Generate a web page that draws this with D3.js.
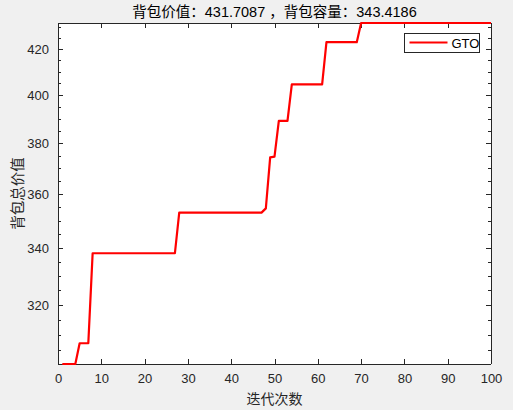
<!DOCTYPE html>
<html>
<head>
<meta charset="utf-8">
<script src="https://cdn.jsdelivr.net/npm/d3@7"></script>
<style>
  body { margin: 0; background: #f0f0f0; }
  .axis text { font-family: "Liberation Sans", Arial, sans-serif; font-size: 13px; fill: #262626; }
  .axis path, .axis line { stroke: #262626; }
</style>
</head>
<body>
<svg id="gto-chart"></svg>
<script>
// iterations 1..100
const iterations = d3.range(1, 101);
// best knapsack value per iteration
const bestValues = [
  300.6, 300.6, 300.6, 300.6, 307.3, 307.3, 307.3, 338.1, 338.1, 338.1,
  338.1, 338.1, 338.1, 338.1, 338.1, 338.1, 338.1, 338.1, 338.1, 338.1,
  338.1, 338.1, 338.1, 338.1, 338.1, 338.1, 338.1, 353.0, 353.0, 353.0,
  353.0, 353.0, 353.0, 353.0, 353.0, 353.0, 353.0, 353.0, 353.0, 353.0,
  353.0, 353.0, 353.0, 353.0, 353.0, 353.0, 353.0, 354.6, 374.3, 374.6,
  389.1, 389.1, 389.1, 404.5, 404.5, 404.5, 404.5, 404.5, 404.5, 404.5,
  404.5, 423.0, 423.0, 423.0, 423.0, 423.0, 423.0, 423.0, 423.0, 431.7087,
  431.7087, 431.7087, 431.7087, 431.7087, 431.7087, 431.7087, 431.7087, 431.7087, 431.7087, 431.7087,
  431.7087, 431.7087, 431.7087, 431.7087, 431.7087, 431.7087, 431.7087, 431.7087, 431.7087, 431.7087,
  431.7087, 431.7087, 431.7087, 431.7087, 431.7087, 431.7087, 431.7087, 431.7087, 431.7087, 431.7087
];
const xTicks = [0, 10, 20, 30, 40, 50, 60, 70, 80, 90, 100];
const yTicks = [320, 340, 360, 380, 400, 420];
const yMinorTicks = d3.range(305, 431, 5);
const seriesName = "GTO";
const titleText = "背包价值：431.7087 ，背包容量：343.4186";
const xLabelText = "迭代次数";
const yLabelText = "背包总价值";

// Graph Dimensions
const totalWidth = 513;
const totalHeight = 410;
const margin = { top: 23, right: 22, bottom: 46, left: 58 };
const graphWidth = totalWidth - margin.left - margin.right;
const graphHeight = totalHeight - margin.top - margin.bottom;
const tickLen = 5;

const data = iterations.map((it, i) => ({ it, value: bestValues[i] }));

///////////////////////////////////////////////////
//////////////// Set the Scales ///////////////////
///////////////////////////////////////////////////

const xScale = d3.scaleLinear().domain([0, 100]).range([0, graphWidth]);

// semilogy, tight limits
const yScale = d3
  .scaleLog()
  .domain([d3.min(bestValues), d3.max(bestValues)])
  .range([graphHeight, 0]);

const lineFunction = d3
  .line()
  .x((d) => xScale(d.it))
  .y((d) => yScale(d.value));

///////////////////////////////////////////////////
////////////// Initialize the SVG /////////////////
///////////////////////////////////////////////////

const root = d3
  .select("#gto-chart")
  .attr("width", totalWidth)
  .attr("height", totalHeight);

root
  .append("rect")
  .attr("width", totalWidth)
  .attr("height", totalHeight)
  .attr("fill", "#f0f0f0");

const svg = root
  .append("g")
  .attr("transform", "translate(" + margin.left + "," + margin.top + ")");

// chart background
svg
  .append("rect")
  .attr("width", graphWidth)
  .attr("height", graphHeight)
  .attr("fill", "#fff");

///////////////////////////////////////////////////
/////////////// Create the axes ///////////////////
///////////////////////////////////////////////////

// bottom axis (ticks inward)
svg
  .append("g")
  .attr("class", "axis")
  .attr("transform", "translate(0," + graphHeight + ")")
  .call(d3.axisBottom(xScale).tickValues(xTicks).tickSize(-tickLen).tickPadding(10).tickFormat(d3.format("d")))
  .call((g) => g.select(".domain").attr("d", "M0,0H" + graphWidth));

// top axis, ticks only
svg
  .append("g")
  .attr("class", "axis")
  .call(d3.axisTop(xScale).tickValues(xTicks).tickSize(-tickLen).tickFormat(""))
  .call((g) => g.select(".domain").attr("d", "M0,0H" + graphWidth));

// left axis
svg
  .append("g")
  .attr("class", "axis")
  .call(d3.axisLeft(yScale).tickValues(yTicks).tickSize(-tickLen).tickPadding(9).tickFormat(d3.format("d")))
  .call((g) => g.select(".domain").attr("d", "M0,0V" + graphHeight));

svg
  .append("g")
  .attr("class", "axis")
  .call(d3.axisLeft(yScale).tickValues(yMinorTicks).tickSize(-3).tickFormat(""))
  .call((g) => g.select(".domain").remove());

// right axis, ticks only
svg
  .append("g")
  .attr("class", "axis")
  .attr("transform", "translate(" + graphWidth + ",0)")
  .call(d3.axisRight(yScale).tickValues(yTicks).tickSize(-tickLen).tickFormat(""))
  .call((g) => g.select(".domain").attr("d", "M0,0V" + graphHeight));

svg
  .append("g")
  .attr("class", "axis")
  .attr("transform", "translate(" + graphWidth + ",0)")
  .call(d3.axisRight(yScale).tickValues(yMinorTicks).tickSize(-3).tickFormat(""))
  .call((g) => g.select(".domain").remove());

svg.selectAll(".axis path, .axis line").attr("shape-rendering", "crispEdges");

///////////////////////////////////////////////////
/////////////// Render the line ///////////////////
///////////////////////////////////////////////////

svg
  .append("path")
  .attr("d", lineFunction(data))
  .attr("fill", "none")
  .attr("stroke", "#ff0000")
  .attr("stroke-width", 2.2)
  .attr("stroke-linejoin", "round");

///////////////////////////////////////////////////
////////////// Title, labels, legend //////////////
///////////////////////////////////////////////////

root
  .append("text")
  .attr("x", margin.left + graphWidth / 2)
  .attr("y", 17)
  .attr("text-anchor", "middle")
  .style("font-family", "'Liberation Sans', 'Noto Sans CJK SC', sans-serif")
  .style("font-size", "14.5px")
  .style("fill", "#000")
  .text(titleText);

root
  .append("text")
  .attr("x", margin.left + graphWidth / 2)
  .attr("y", 404)
  .attr("text-anchor", "middle")
  .style("font-family", "'Noto Sans CJK SC', sans-serif")
  .style("font-size", "14px")
  .style("fill", "#262626")
  .text(xLabelText);

root
  .append("text")
  .attr("transform", "translate(23," + (margin.top + graphHeight / 2) + ") rotate(-90)")
  .attr("text-anchor", "middle")
  .style("font-family", "'Noto Sans CJK SC', sans-serif")
  .style("font-size", "14.5px")
  .style("fill", "#262626")
  .text(yLabelText);

// legend box
const legend = root.append("g").attr("transform", "translate(404.5,33.5)");
legend
  .append("rect")
  .attr("width", 75)
  .attr("height", 19)
  .attr("fill", "#fff")
  .attr("stroke", "#262626")
  .attr("stroke-width", 1);
legend
  .append("line")
  .attr("x1", 5)
  .attr("x2", 43)
  .attr("y1", 9)
  .attr("y2", 9)
  .attr("stroke", "#ff0000")
  .attr("stroke-width", 2.2);
legend
  .append("text")
  .attr("x", 47)
  .attr("y", 14)
  .style("font-family", "'Liberation Sans', Arial, sans-serif")
  .style("font-size", "13px")
  .style("fill", "#000")
  .text(seriesName);
</script>
</body>
</html>
